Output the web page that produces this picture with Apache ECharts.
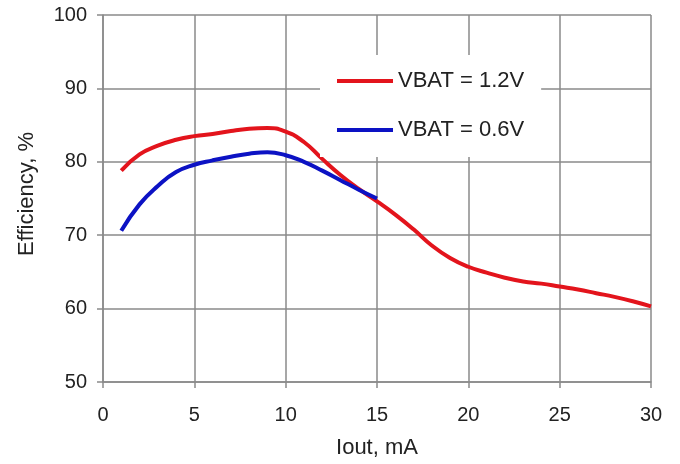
<!DOCTYPE html>
<html>
<head>
<meta charset="utf-8">
<script src="https://cdn.jsdelivr.net/npm/echarts@6/dist/echarts.min.js"></script>
<style>html,body{margin:0;padding:0;background:#fff}#c{width:680px;height:464px}</style>
</head>
<body>
<div id="c"></div>
<script>
var seriesNames = ['VBAT = 1.2V', 'VBAT = 0.6V'];
var iout12 = [1,2,3,4,5,6,7,8,9,10,11,12,13,14,15,16,17,18,19,20,21,22,23,24,25,26,27,28,29,30];
var eff12  = [78.8,81.0,82.2,83.0,83.5,83.8,84.2,84.5,84.6,84.1,82.7,80.4,78.2,76.3,74.6,72.8,70.8,68.6,66.9,65.7,64.9,64.2,63.7,63.4,63.0,62.6,62.1,61.6,61.0,60.3];
var iout06 = [1,2,3,4,5,6,7,8,9,10,11,12,13,14,15];
var eff06  = [70.6,74.2,76.7,78.6,79.6,80.2,80.7,81.1,81.3,80.9,80.0,78.8,77.5,76.2,75.0];
var xTicks = [0,5,10,15,20,25,30];
var yTicks = [50,60,70,80,90,100];

function pairs(xs, ys){ return xs.map(function(x,i){ return [x, ys[i]]; }); }

var font = 'Liberation Sans';
var gridColor = '#8a8a8a';
var textColor = '#222';
var chart = echarts.init(document.getElementById('c'));
chart.setOption({
  animation: false,
  backgroundColor: '#fff',
  grid: { left: 103, right: 29, top: 15, bottom: 82, containLabel: false },
  xAxis: {
    type: 'value', min: xTicks[0], max: xTicks[xTicks.length-1], interval: 5,
    name: 'Iout, mA', nameLocation: 'middle', nameGap: 55,
    nameTextStyle: { fontFamily: font, fontSize: 22, color: textColor },
    axisLine: { show: true, lineStyle: { color: gridColor, width: 1.5 } },
    axisTick: { show: true, length: 6, lineStyle: { color: gridColor, width: 1.5 } },
    axisLabel: { fontFamily: font, fontSize: 20, color: textColor, margin: 23 },
    splitLine: { show: true, lineStyle: { color: gridColor, width: 1.5 } }
  },
  yAxis: {
    type: 'value', min: yTicks[0], max: yTicks[yTicks.length-1], interval: 10,
    name: 'Efficiency, %', nameLocation: 'middle', nameGap: 65, nameRotate: 90,
    nameTextStyle: { fontFamily: font, fontSize: 22, color: textColor, padding: [0, 0, 0, 9] },
    axisLine: { show: true, lineStyle: { color: gridColor, width: 1.5 } },
    axisTick: { show: true, length: 6, lineStyle: { color: gridColor, width: 1.5 } },
    axisLabel: { fontFamily: font, fontSize: 20, color: textColor, margin: 16 },
    splitLine: { show: true, lineStyle: { color: gridColor, width: 1.5 } }
  },
  legend: {
    orient: 'vertical', left: 320, top: 55,
    padding: [15, 17, 16, 17],
    backgroundColor: '#fff',
    icon: 'rect', itemWidth: 56, itemHeight: 4, itemGap: 27,
    textStyle: { fontFamily: font, fontSize: 22, color: textColor, lineHeight: 22 },
    data: seriesNames
  },
  series: [
    { name: seriesNames[0], type: 'line', smooth: true, showSymbol: false, z: 3,
      lineStyle: { color: '#e3141c', width: 4 }, itemStyle: { color: '#e3141c' },
      data: pairs(iout12, eff12) },
    { name: seriesNames[1], type: 'line', smooth: true, showSymbol: false, z: 4,
      lineStyle: { color: '#0c12c4', width: 4 }, itemStyle: { color: '#0c12c4' },
      data: pairs(iout06, eff06) }
  ]
});
</script>
</body>
</html>
